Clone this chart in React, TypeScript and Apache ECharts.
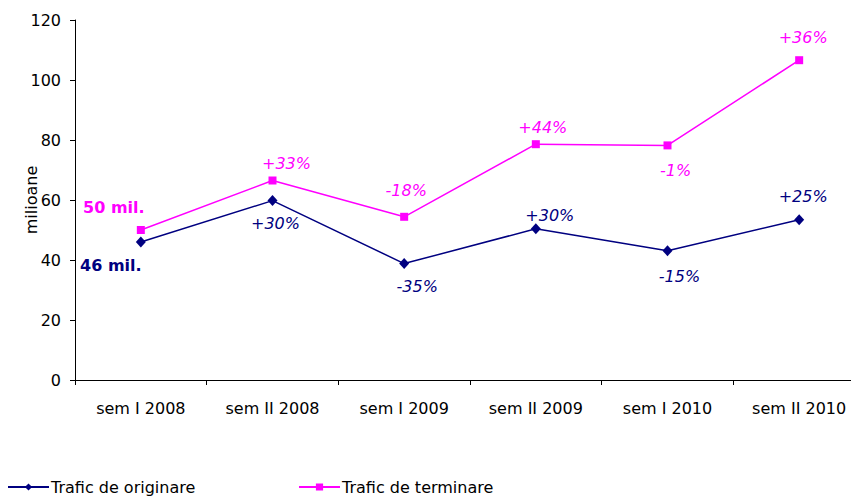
import React, { useEffect, useRef } from "react";
import * as echarts from "echarts";

const categories = ["sem I 2008", "sem II 2008", "sem I 2009", "sem II 2009", "sem I 2010", "sem II 2010"];
const originare = [46, 59.8, 38.8, 50.4, 43.1, 53.4];
const terminare = [50, 66.5, 54.4, 78.6, 78.2, 106.6];
const originareLabels = ["46 mil.", "+30%", "-35%", "+30%", "-15%", "+25%"];
const terminareLabels = ["50 mil.", "+33%", "-18%", "+44%", "-1%", "+36%"];
const yTicks = [0, 20, 40, 60, 80, 100, 120];

// label center offsets relative to the marker (styling only)
const originareOffsets = [[-30, 23], [3, 23], [13, 23], [14, -13], [12, 26], [4, -23]];
const terminareOffsets = [[-27, -23], [14, -17], [2, -26], [7, -17], [8, 25], [4, -23]];

const NAVY = "#000080";
const PINK = "#FF00FF";
const FONT = "Tahoma, 'DejaVu Sans', sans-serif";

function buildData(values: number[], labels: string[], offsets: number[][], color: string) {
  return values.map((v, i) => ({
    value: v,
    label: {
      show: true,
      position: "inside",
      offset: offsets[i],
      formatter: labels[i],
      color,
      fontFamily: FONT,
      fontSize: 16,
      fontWeight: i === 0 ? "bold" : "normal",
      fontStyle: i === 0 ? "normal" : "italic",
    },
  }));
}

export default function App() {
  const ref = useRef<HTMLDivElement>(null);
  useEffect(() => {
    if (!ref.current) return;
    const chart = echarts.init(ref.current, null, { renderer: "svg" });
    chart.setOption({
      animation: false,
      backgroundColor: "#ffffff",
      textStyle: { fontFamily: FONT },
      grid: { left: 75, right: 0, top: 20, bottom: 116, containLabel: false },
      legend: [
        {
          data: ["Trafic de originare"],
          left: 7,
          top: 479,
          padding: 0,
          itemWidth: 41,
          itemHeight: 9,
          textStyle: { color: "#000", fontSize: 16, fontFamily: FONT, padding: [0, 0, 0, -3] },
        },
        {
          data: ["Trafic de terminare"],
          left: 298,
          top: 479,
          padding: 0,
          itemWidth: 41,
          itemHeight: 9,
          textStyle: { color: "#000", fontSize: 16, fontFamily: FONT, padding: [0, 0, 0, -3] },
        },
      ],
      xAxis: {
        type: "category",
        data: categories,
        boundaryGap: true,
        axisLine: { lineStyle: { color: "#000", width: 1 } },
        axisTick: { show: true, length: 5, interval: 0, lineStyle: { color: "#000" } },
        axisLabel: { color: "#000", fontSize: 16, margin: 20, fontFamily: FONT, interval: 0 },
      },
      yAxis: {
        type: "value",
        min: yTicks[0],
        max: yTicks[yTicks.length - 1],
        interval: 20,
        name: "milioane",
        nameLocation: "middle",
        nameGap: 36,
        nameRotate: 90,
        nameMoveOverlap: false,
        nameTextStyle: { color: "#000", fontSize: 16, fontFamily: FONT },
        axisLine: { show: true, lineStyle: { color: "#000", width: 1 } },
        axisTick: { show: true, length: 5, lineStyle: { color: "#000" } },
        axisLabel: { color: "#000", fontSize: 16, margin: 14, fontFamily: FONT },
        splitLine: { show: false },
      },
      series: [
        {
          name: "Trafic de originare",
          type: "line",
          data: buildData(originare, originareLabels, originareOffsets, NAVY),
          symbol: "diamond",
          symbolSize: [10, 11],
          lineStyle: { color: NAVY, width: 1.5 },
          itemStyle: { color: NAVY },
          z: 3,
        },
        {
          name: "Trafic de terminare",
          type: "line",
          data: buildData(terminare, terminareLabels, terminareOffsets, PINK),
          symbol: "rect",
          symbolSize: 8,
          lineStyle: { color: PINK, width: 1.5 },
          itemStyle: { color: PINK },
          z: 4,
        },
      ],
    });
    return () => chart.dispose();
  }, []);
  return (
    <div style={{ position: "fixed", left: 0, top: 0, width: 851, height: 496, overflow: "hidden" }}>
      <div ref={ref} style={{ width: 865, height: 496 }} />
    </div>
  );
}
